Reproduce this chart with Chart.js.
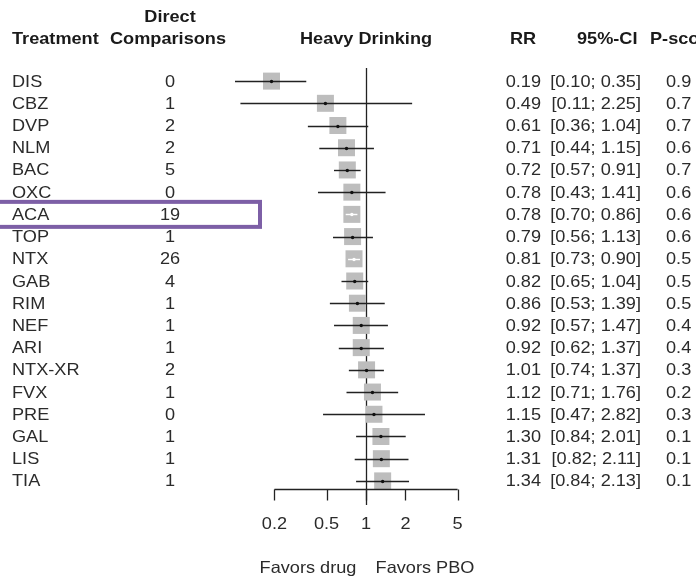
<!DOCTYPE html>
<html>
<head>
<meta charset="utf-8">
<script src="https://cdn.jsdelivr.net/npm/chart.js@4/dist/chart.umd.min.js"></script>
<style>
  html, body { margin: 0; padding: 0; background: #fff; }
  #wrap { width: 696px; height: 578px; position: relative; }
</style>
</head>
<body>
<div id="wrap"><canvas id="forest"></canvas></div>
<script>
// data
const treatments = ['DIS', 'CBZ', 'DVP', 'NLM', 'BAC', 'OXC', 'ACA', 'TOP', 'NTX', 'GAB',
  'RIM', 'NEF', 'ARI', 'NTX-XR', 'FVX', 'PRE', 'GAL', 'LIS', 'TIA'];
const directComparisons = [0, 1, 2, 2, 5, 0, 19, 1, 26, 4, 1, 1, 1, 2, 1, 0, 1, 1, 1];
const rr = [0.19, 0.49, 0.61, 0.71, 0.72, 0.78, 0.78, 0.79, 0.81, 0.82,
  0.86, 0.92, 0.92, 1.01, 1.12, 1.15, 1.30, 1.31, 1.34];
const ciLow = [0.10, 0.11, 0.36, 0.44, 0.57, 0.43, 0.70, 0.56, 0.73, 0.65,
  0.53, 0.57, 0.62, 0.74, 0.71, 0.47, 0.84, 0.82, 0.84];
const ciHigh = [0.35, 2.25, 1.04, 1.15, 0.91, 1.41, 0.86, 1.13, 0.90, 1.04,
  1.39, 1.47, 1.37, 1.37, 1.76, 2.82, 2.01, 2.11, 2.13];
// only the first digits are visible, the column is cut off at the image edge
const pScores = ['0.9', '0.7', '0.7', '0.6', '0.7', '0.6', '0.6', '0.6', '0.5', '0.5',
  '0.5', '0.4', '0.4', '0.3', '0.2', '0.3', '0.1', '0.1', '0.1'];
const xTicks = [0.2, 0.5, 1, 2, 5];
const highlightRow = 'ACA';

const FONT = '"Liberation Sans", Arial, sans-serif';
const SQUARE = 17;

function txt(ctx, s, x, y, align, bold, size) {
  ctx.save();
  ctx.font = (bold ? 'bold ' : '') + (size || 16) + 'px ' + FONT;
  ctx.textAlign = align || 'left';
  ctx.textBaseline = 'middle';
  ctx.fillStyle = bold ? '#1a1a1a' : '#2b2b2b';
  ctx.translate(x, y);
  ctx.scale(1.1, 1);
  ctx.fillText(s, 0, 0);
  ctx.restore();
}

// confidence intervals, reference line, custom axis and the text table
const forestPlugin = {
  id: 'forest',
  beforeDatasetsDraw(chart) {
    const { ctx, scales: { x } } = chart;
    ctx.save();
    // line at RR = 1
    const x1 = Math.round(x.getPixelForValue(1)) + 0.5;
    ctx.strokeStyle = '#222';
    ctx.lineWidth = 1.3;
    ctx.beginPath();
    ctx.moveTo(x1, 68);
    ctx.lineTo(x1, 505);
    ctx.stroke();
    ctx.restore();
  },
  afterDatasetsDraw(chart) {
    const { ctx, scales: { x, y } } = chart;
    ctx.save();
    rr.forEach((v, i) => {
      const py = Math.round(y.getPixelForValue(i)) + 0.5;
      const lo = x.getPixelForValue(ciLow[i]);
      const hi = x.getPixelForValue(ciHigh[i]);
      const px = x.getPixelForValue(v);
      const inside = lo >= px - SQUARE / 2 && hi <= px + SQUARE / 2;
      ctx.strokeStyle = inside ? '#fff' : '#222';
      ctx.lineWidth = 1.4;
      ctx.beginPath();
      ctx.moveTo(lo, py);
      ctx.lineTo(hi, py);
      ctx.stroke();
      ctx.fillStyle = inside ? '#fff' : '#111';
      ctx.beginPath();
      ctx.arc(px, py, 1.7, 0, Math.PI * 2);
      ctx.fill();
    });

    // bottom axis
    const axY = 489.5;
    const xa = x.getPixelForValue(xTicks[0]);
    const xb = x.getPixelForValue(xTicks[xTicks.length - 1]);
    ctx.strokeStyle = '#222';
    ctx.lineWidth = 1.3;
    ctx.beginPath();
    ctx.moveTo(xa, axY);
    ctx.lineTo(xb, axY);
    xTicks.forEach(t => {
      const tx = Math.round(x.getPixelForValue(t)) + 0.5;
      ctx.moveTo(tx, axY);
      ctx.lineTo(tx, axY + 11);
    });
    ctx.stroke();
    xTicks.forEach(t => {
      txt(ctx, String(t), x.getPixelForValue(t), 524, 'center', false, 16.5);
    });
    txt(ctx, 'Favors drug', 308, 568, 'center', false, 16.5);
    txt(ctx, 'Favors PBO', 425, 568, 'center', false, 16.5);

    // headers
    txt(ctx, 'Direct', 170, 17, 'center', true, 16.5);
    txt(ctx, 'Treatment', 12, 39, 'left', true, 16.5);
    txt(ctx, 'Comparisons', 168, 39, 'center', true, 16.5);
    txt(ctx, 'Heavy Drinking', x.getPixelForValue(1), 39, 'center', true, 16.5);
    txt(ctx, 'RR', 510, 39, 'left', true, 16.5);
    txt(ctx, '95%-CI', 577, 39, 'left', true, 16.5);
    txt(ctx, 'P-score', 650, 39, 'left', true, 16.5);

    // table rows
    treatments.forEach((name, i) => {
      const py = y.getPixelForValue(i) + 1;
      txt(ctx, name, 12, py, 'left', false, 16.5);
      txt(ctx, String(directComparisons[i]), 170, py, 'center', false, 16.5);
      txt(ctx, rr[i].toFixed(2), 541, py, 'right', false, 16.5);
      txt(ctx, '[' + ciLow[i].toFixed(2) + '; ' + ciHigh[i].toFixed(2) + ']', 641, py, 'right', false, 16.5);
      txt(ctx, pScores[i], 666, py, 'left', false, 16.5);
    });

    // highlighted row box
    const hi = treatments.indexOf(highlightRow);
    const hy = y.getPixelForValue(hi);
    ctx.strokeStyle = '#7d5fa6';
    ctx.lineWidth = 4;
    ctx.strokeRect(-5, hy - 12.5, 265, 25);
    ctx.restore();
  }
};

const points = rr.map((v, i) => ({ x: v, y: i }));

new Chart(document.getElementById('forest'), {
  type: 'scatter',
  data: {
    datasets: [{
      data: points,
      pointStyle: 'rect',
      pointRadius: SQUARE / 2 / Math.SQRT1_2,
      pointHoverRadius: SQUARE / 2 / Math.SQRT1_2,
      backgroundColor: '#bdbdbd',
      borderWidth: 0
    }]
  },
  options: {
    responsive: true,
    maintainAspectRatio: false,
    animation: false,
    events: [],
    layout: { padding: { left: 235, right: 199, top: 70, bottom: 86 } },
    plugins: {
      legend: { display: false },
      tooltip: { enabled: false },
      title: { display: false }
    },
    scales: {
      x: { type: 'logarithmic', min: 0.1, max: 10, display: false },
      y: { type: 'linear', min: -0.5, max: 18.5, reverse: true, display: false }
    }
  },
  plugins: [forestPlugin]
});
</script>
</body>
</html>
